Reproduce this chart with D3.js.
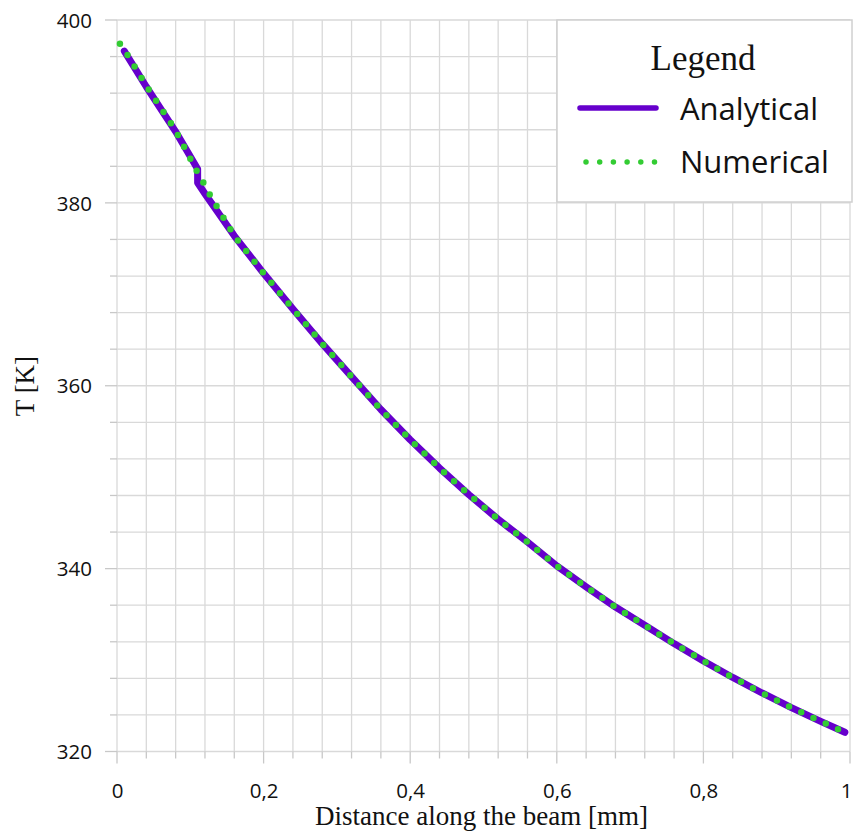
<!DOCTYPE html>
<html>
<head>
<meta charset="utf-8">
<script src="https://cdn.jsdelivr.net/npm/d3@7"></script>
<style>
  html, body { margin: 0; padding: 0; background: #ffffff; }
  svg { display: block; }
</style>
</head>
<body>
<svg id="chart" width="853" height="836"></svg>
<script>
// Temperature along the beam [mm] -> T [K]
const analyticalX = [0.01, 0.04, 0.08, 0.11, 0.11, 0.12, 0.16, 0.2, 0.24, 0.28, 0.32, 0.36, 0.4, 0.44, 0.48, 0.52, 0.56, 0.6, 0.64, 0.68, 0.72, 0.76, 0.8, 0.84, 0.88, 0.92, 0.96, 0.993];
const analyticalT = [396.6, 392.7, 387.8, 383.7, 382.2, 381.0, 376.4, 372.3, 368.4, 364.6, 361.0, 357.4, 354.1, 351.0, 348.1, 345.4, 342.9, 340.3, 338.0, 335.8, 333.8, 331.8, 329.9, 328.1, 326.4, 324.8, 323.3, 322.1];

const numericalX = [0.004, 0.015, 0.04, 0.08, 0.108, 0.118, 0.128, 0.16, 0.2, 0.24, 0.28, 0.32, 0.36, 0.4, 0.44, 0.48, 0.52, 0.56, 0.6, 0.64, 0.68, 0.72, 0.76, 0.8, 0.84, 0.88, 0.92, 0.96, 0.993];
const numericalT = [397.4, 396.1, 392.8, 387.9, 383.6, 382.2, 380.7, 376.4, 372.3, 368.4, 364.6, 361.0, 357.4, 354.1, 351.0, 348.1, 345.4, 342.9, 340.3, 338.0, 335.8, 333.8, 331.8, 329.9, 328.1, 326.4, 324.8, 323.3, 322.1];

const xTickValues = [0, 0.2, 0.4, 0.6, 0.8, 1];
const yTickValues = [320, 340, 360, 380, 400];
const xGridStep = 0.04;
const yGridStep = 4;

const seriesNames = ["Analytical", "Numerical"];
const legendTitle = "Legend";
const xTitle = "Distance along the beam [mm]";
const yTitle = "T [K]";

const colors = { analytical: "#6600cc", numerical: "#33cc33", grid: "#d9d9d9", tick: "#c8c8c8" };

const svg = d3.select("#chart");
const x = d3.scaleLinear().domain([0, 1]).range([117, 850]);
const y = d3.scaleLinear().domain([320, 400]).range([751.5, 20]);

const fmt = v => (v === 0 || v === 1) ? String(v) : d3.format(".1f")(v).replace(".", ",");

// grid lines
const xGrid = d3.range(0, 1 + 1e-9, xGridStep);
const yGrid = d3.range(320, 400 + 1e-9, yGridStep);

const grid = svg.append("g");
grid.selectAll("line.v").data(xGrid).join("line")
  .attr("x1", d => x(d)).attr("x2", d => x(d))
  .attr("y1", y(400)).attr("y2", y(320))
  .attr("stroke", colors.grid).attr("stroke-width", 1.3);
grid.selectAll("line.h").data(yGrid).join("line")
  .attr("x1", x(0)).attr("x2", x(1))
  .attr("y1", d => y(d)).attr("y2", d => y(d))
  .attr("stroke", colors.grid).attr("stroke-width", 1.3);

// tick marks outside the plot area
const isMajorX = d => Math.abs(d * 5 - Math.round(d * 5)) < 1e-6;
const isMajorY = d => d % 20 === 0;
grid.selectAll("line.tx").data(xGrid).join("line")
  .attr("x1", d => x(d)).attr("x2", d => x(d))
  .attr("y1", y(320)).attr("y2", d => y(320) + (isMajorX(d) ? 12 : 7))
  .attr("stroke", colors.tick).attr("stroke-width", 1.3);
grid.selectAll("line.ty").data(yGrid).join("line")
  .attr("x1", d => x(0) - (isMajorY(d) ? 12 : 7)).attr("x2", x(0))
  .attr("y1", d => y(d)).attr("y2", d => y(d))
  .attr("stroke", colors.tick).attr("stroke-width", 1.3);

// axes labels
const sans = "'Open Sans', 'Noto Sans', sans-serif";
const serif = "'Liberation Serif', 'Times New Roman', serif";

const xAxis = d3.axisBottom(x).tickValues(xTickValues).tickFormat(fmt).tickSize(0).tickPadding(0);
const gx = svg.append("g").attr("transform", `translate(0, ${y(320)})`).call(xAxis);
gx.select(".domain").remove();
gx.selectAll("text").attr("font-family", sans).attr("font-size", 20.5).attr("fill", "#111")
  .attr("dy", null).attr("y", 46)
  .attr("x", d => d === 1 ? -4 : 0);

const yAxis = d3.axisLeft(y).tickValues(yTickValues).tickFormat(d3.format("d")).tickSize(0).tickPadding(0);
const gy = svg.append("g").attr("transform", `translate(${x(0)}, 0)`).call(yAxis);
gy.select(".domain").remove();
gy.selectAll("text").attr("font-family", sans).attr("font-size", 20.5).attr("fill", "#111")
  .attr("x", -25).attr("dy", "0.35em");

svg.append("text").attr("x", 481.5).attr("y", 825)
  .attr("text-anchor", "middle").attr("font-family", serif).attr("font-size", 27).attr("fill", "#111")
  .text(xTitle);
svg.append("text").attr("transform", `translate(34, 386) rotate(-90)`)
  .attr("text-anchor", "middle").attr("font-family", serif).attr("font-size", 27).attr("fill", "#111")
  .text(yTitle);

// series
const line = d3.line().x(d => x(d[0])).y(d => y(d[1]));
const analytical = analyticalX.map((v, i) => [v, analyticalT[i]]);
const numerical = numericalX.map((v, i) => [v, numericalT[i]]);

svg.append("path").datum(analytical).attr("d", line)
  .attr("fill", "none").attr("stroke", colors.analytical).attr("stroke-width", 7)
  .attr("stroke-linecap", "round").attr("stroke-linejoin", "round");
svg.append("path").datum(numerical).attr("d", line)
  .attr("fill", "none").attr("stroke", colors.numerical).attr("stroke-width", 6.5)
  .attr("stroke-linecap", "round").attr("stroke-linejoin", "round").attr("stroke-dasharray", "0 13.5");

// legend
const lg = svg.append("g");
lg.append("rect").attr("x", 557).attr("y", 20).attr("width", 295).attr("height", 182)
  .attr("fill", "#ffffff").attr("stroke", "#d0d0d0").attr("stroke-width", 1.5);
lg.append("text").attr("x", 703).attr("y", 70).attr("text-anchor", "middle")
  .attr("font-family", serif).attr("font-size", 35).attr("fill", "#111").text(legendTitle);
lg.append("line").attr("x1", 580).attr("x2", 656).attr("y1", 108).attr("y2", 108)
  .attr("stroke", colors.analytical).attr("stroke-width", 5.5).attr("stroke-linecap", "round");
lg.append("line").attr("x1", 586).attr("x2", 656).attr("y1", 162).attr("y2", 162)
  .attr("stroke", colors.numerical).attr("stroke-width", 5.5).attr("stroke-linecap", "round")
  .attr("stroke-dasharray", "0 13.7");
lg.selectAll("text.item").data(seriesNames).join("text")
  .attr("x", 680).attr("y", (d, i) => 120 + i * 53)
  .attr("font-family", sans).attr("font-size", 31).attr("fill", "#111")
  .text(d => d);
</script>
</body>
</html>
